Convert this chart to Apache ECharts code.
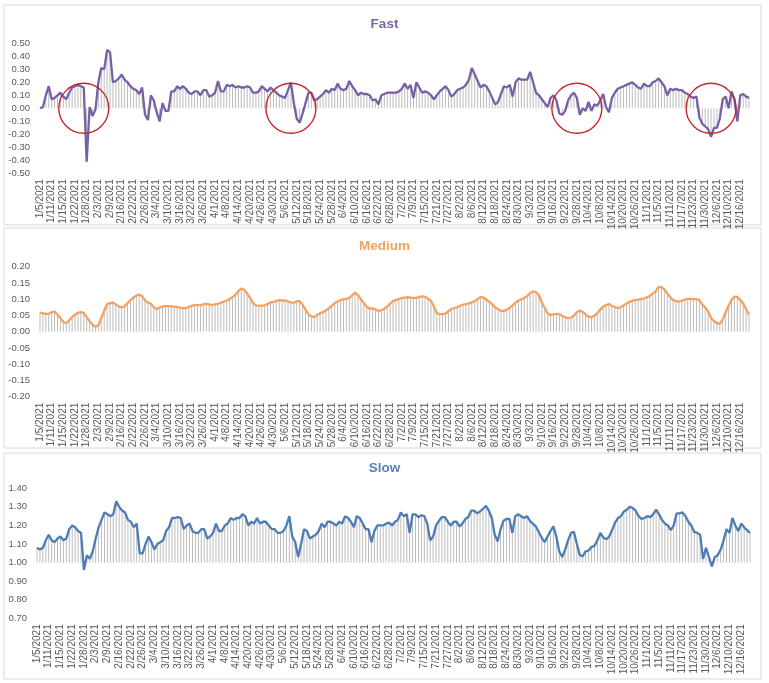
<!DOCTYPE html>
<html>
<head>
<meta charset="utf-8">
<script src="https://cdn.jsdelivr.net/npm/echarts@6/dist/echarts.min.js"></script>
<style>
html,body{margin:0;padding:0;background:#fff;}
#c{width:769px;height:683px;}
</style>
</head>
<body>
<div id="c"></div>
<script>
// Trading days of 2021 shown on the category axis (month -> days)
const monthDays = [
  [5,6,7,8,11,12,13,14,15,19,20,21,22,25,26,27,28,29],
  [1,2,3,4,5,8,9,10,11,12,16,17,18,19,22,23,24,25,26],
  [1,2,3,4,5,8,9,10,11,12,15,16,17,18,19,22,23,24,25,26,29,30,31],
  [1,5,6,7,8,9,12,13,14,15,16,19,20,21,22,23,26,27,28,29,30],
  [3,4,5,6,7,10,11,12,13,14,17,18,19,20,21,24,25,26,27,28],
  [1,2,3,4,7,8,9,10,11,14,15,16,17,18,21,22,23,24,25,28,29,30],
  [1,2,6,7,8,9,12,13,14,15,16,19,20,21,22,23,26,27,28,29,30],
  [2,3,4,5,6,9,10,11,12,13,16,17,18,19,20,23,24,25,26,27,30,31],
  [1,2,3,7,8,9,10,13,14,15,16,17,20,21,22,23,24,27,28,29,30],
  [1,4,5,6,7,8,11,12,13,14,15,18,19,20,21,22,25,26,27,28,29],
  [1,2,3,4,5,8,9,10,11,12,15,16,17,18,19,22,23,24,26,29,30],
  [1,2,3,6,7,8,9,10,13,14,15,16,17,20,21]
];
const categories = monthDays.flatMap((days, m) => days.map(d => (m + 1) + '/' + d + '/2021'));

const fastValues = [
  0.00,0.01,0.10,0.17,0.07,0.08,0.10,0.12,0.09,0.07,
  0.12,0.16,0.17,0.18,0.17,0.16,-0.41,0.01,-0.06,-0.01,
  0.20,0.31,0.30,0.45,0.43,0.20,0.21,0.23,0.26,0.22,
  0.20,0.17,0.15,0.14,0.11,0.16,-0.05,-0.09,0.10,0.06,
  -0.03,-0.10,0.04,-0.02,-0.02,0.13,0.13,0.17,0.15,0.17,
  0.15,0.12,0.11,0.13,0.13,0.10,0.14,0.14,0.09,0.10,
  0.12,0.21,0.13,0.13,0.18,0.17,0.18,0.16,0.17,0.16,
  0.16,0.17,0.16,0.12,0.12,0.13,0.17,0.15,0.13,0.16,
  0.14,0.12,0.10,0.09,0.08,0.14,0.20,0.04,-0.08,-0.11,
  -0.04,0.04,0.12,0.12,0.06,0.07,0.09,0.11,0.14,0.12,
  0.15,0.14,0.19,0.15,0.14,0.15,0.21,0.17,0.14,0.10,
  0.12,0.11,0.11,0.10,0.06,0.07,0.03,0.10,0.11,0.12,
  0.12,0.12,0.12,0.13,0.15,0.19,0.15,0.18,0.08,0.20,
  0.16,0.12,0.13,0.12,0.10,0.07,0.10,0.13,0.15,0.17,
  0.14,0.09,0.11,0.14,0.15,0.16,0.18,0.22,0.31,0.26,
  0.21,0.16,0.18,0.17,0.13,0.08,0.03,0.05,0.11,0.17,
  0.16,0.18,0.09,0.20,0.23,0.22,0.22,0.22,0.28,0.20,
  0.12,0.10,0.07,0.04,0.01,0.08,0.10,0.06,-0.04,-0.05,
  -0.02,0.06,0.10,0.12,0.08,-0.05,0.00,-0.02,0.05,-0.02,
  0.03,0.02,0.06,0.11,0.01,-0.03,0.08,0.12,0.15,0.16,
  0.17,0.18,0.19,0.20,0.18,0.16,0.15,0.19,0.17,0.17,
  0.20,0.21,0.23,0.20,0.17,0.10,0.15,0.14,0.15,0.14,
  0.14,0.12,0.11,0.09,0.08,0.09,-0.07,-0.12,-0.14,-0.16,
  -0.22,-0.15,-0.15,-0.08,0.07,0.09,0.00,0.13,0.07,-0.10,
  0.10,0.11,0.09,0.08
];

const mediumValues = [
  0.060,0.056,0.055,0.055,0.060,0.062,0.052,0.042,0.030,0.026,
  0.035,0.045,0.053,0.058,0.060,0.058,0.045,0.032,0.022,0.015,
  0.020,0.042,0.065,0.085,0.088,0.090,0.084,0.078,0.075,0.078,
  0.088,0.097,0.105,0.111,0.114,0.110,0.096,0.090,0.086,0.075,
  0.070,0.074,0.078,0.079,0.079,0.078,0.077,0.076,0.074,0.072,
  0.073,0.076,0.080,0.082,0.082,0.082,0.084,0.086,0.084,0.082,
  0.084,0.086,0.089,0.093,0.096,0.101,0.106,0.114,0.125,0.133,
  0.128,0.118,0.104,0.088,0.081,0.080,0.080,0.081,0.085,0.090,
  0.092,0.095,0.097,0.096,0.096,0.093,0.090,0.089,0.094,0.094,
  0.083,0.068,0.054,0.047,0.045,0.052,0.057,0.060,0.066,0.072,
  0.080,0.088,0.093,0.097,0.100,0.101,0.104,0.112,0.120,0.112,
  0.100,0.088,0.076,0.071,0.072,0.068,0.064,0.066,0.070,0.078,
  0.086,0.094,0.098,0.100,0.104,0.105,0.106,0.105,0.104,0.104,
  0.107,0.109,0.107,0.102,0.095,0.078,0.057,0.054,0.054,0.056,
  0.063,0.070,0.073,0.076,0.080,0.083,0.085,0.087,0.090,0.094,
  0.100,0.107,0.105,0.099,0.092,0.084,0.075,0.069,0.064,0.064,
  0.068,0.074,0.081,0.090,0.096,0.100,0.104,0.110,0.119,0.124,
  0.122,0.112,0.090,0.072,0.056,0.051,0.053,0.055,0.054,0.049,
  0.044,0.042,0.043,0.050,0.060,0.065,0.061,0.053,0.046,0.045,
  0.049,0.057,0.068,0.077,0.082,0.085,0.080,0.076,0.073,0.075,
  0.081,0.087,0.092,0.095,0.098,0.099,0.101,0.102,0.106,0.110,
  0.117,0.124,0.138,0.137,0.130,0.118,0.106,0.097,0.094,0.093,
  0.095,0.099,0.101,0.101,0.100,0.100,0.097,0.083,0.075,0.062,
  0.042,0.033,0.027,0.024,0.038,0.060,0.080,0.098,0.108,0.107,
  0.098,0.087,0.070,0.052
];

const slowValues = [
  1.08,1.07,1.08,1.12,1.15,1.12,1.11,1.13,1.14,1.12,
  1.13,1.18,1.20,1.19,1.17,1.16,0.96,1.04,1.02,1.06,
  1.13,1.19,1.23,1.27,1.26,1.25,1.26,1.33,1.30,1.28,
  1.27,1.23,1.22,1.19,1.21,1.05,1.05,1.10,1.14,1.11,
  1.07,1.10,1.11,1.12,1.17,1.19,1.24,1.24,1.245,1.24,
  1.18,1.20,1.21,1.17,1.16,1.16,1.18,1.18,1.13,1.14,
  1.16,1.21,1.17,1.17,1.20,1.21,1.24,1.23,1.24,1.24,
  1.26,1.25,1.20,1.22,1.21,1.24,1.21,1.22,1.22,1.20,
  1.18,1.18,1.16,1.16,1.17,1.20,1.25,1.14,1.11,1.03,
  1.10,1.18,1.17,1.13,1.14,1.15,1.17,1.21,1.19,1.22,
  1.22,1.21,1.20,1.22,1.21,1.25,1.24,1.22,1.19,1.25,
  1.24,1.21,1.18,1.18,1.11,1.17,1.20,1.20,1.20,1.21,
  1.215,1.20,1.22,1.23,1.27,1.25,1.26,1.16,1.26,1.26,
  1.245,1.255,1.25,1.21,1.12,1.14,1.20,1.225,1.245,1.245,
  1.22,1.20,1.22,1.22,1.195,1.21,1.235,1.245,1.28,1.28,
  1.265,1.275,1.29,1.305,1.28,1.24,1.15,1.115,1.18,1.225,
  1.235,1.235,1.16,1.25,1.26,1.25,1.24,1.25,1.225,1.21,
  1.195,1.165,1.135,1.11,1.14,1.17,1.195,1.14,1.06,1.03,
  1.07,1.12,1.16,1.165,1.10,1.04,1.035,1.06,1.065,1.085,
  1.09,1.12,1.16,1.135,1.125,1.14,1.175,1.215,1.24,1.25,
  1.275,1.285,1.30,1.295,1.28,1.25,1.235,1.24,1.25,1.245,
  1.26,1.285,1.26,1.23,1.21,1.20,1.175,1.20,1.265,1.265,
  1.27,1.25,1.22,1.20,1.165,1.16,1.15,1.02,1.08,1.03,
  0.98,1.03,1.04,1.07,1.12,1.18,1.16,1.24,1.20,1.17,
  1.21,1.19,1.175,1.16
];

// Annotation circles (category index, value) on the Fast panel
const circleSpots = [[15, 0], [86, 0], [184, 0], [230, 0]];

const panelTitles = ['Fast', 'Medium', 'Slow'];
const yMin = [-0.5, -0.2, 0.7];
const yMax = [0.5, 0.2, 1.4];
const yStep = [0.1, 0.05, 0.1];
const dropBase = [0, 0, 1.0];

const colors = ['#7860A6', '#F4A262', '#4E7DB3'];
const titleColors = ['#7D65A8', '#F2A35E', '#5A82B6'];
const seriesData = [fastValues, mediumValues, slowValues];

const grids = [
  {left: 40, right: 20, top: 43.3, height: 130},
  {left: 40, right: 20, top: 266.7, height: 130},
  {left: 37, right: 19, top: 488.3, height: 130}
];

const chart = echarts.init(document.getElementById('c'), null, {renderer: 'canvas'});

function dropRender(base) {
  return function (params, api) {
    const i = api.value(0);
    const v = api.value(1);
    const a = api.coord([i, base]);
    const b = api.coord([i, v]);
    return {
      type: 'line',
      shape: {x1: a[0], y1: a[1], x2: b[0], y2: b[1]},
      style: {stroke: '#ABABAB', lineWidth: 0.8}
    };
  };
}

const font = '"Liberation Sans", Arial, sans-serif';

const option = {
  animation: false,
  backgroundColor: '#ffffff',
  graphic: [
    {type: 'rect', shape: {x: 4, y: 5, width: 757, height: 220}, style: {fill: 'none', stroke: '#D9D9D9', lineWidth: 1}},
    {type: 'rect', shape: {x: 4, y: 228, width: 757, height: 220}, style: {fill: 'none', stroke: '#D9D9D9', lineWidth: 1}},
    {type: 'rect', shape: {x: 4, y: 453, width: 757, height: 226}, style: {fill: 'none', stroke: '#D9D9D9', lineWidth: 1}}
  ],
  title: [
    {text: panelTitles[0], left: 'center', top: 12, textStyle: {color: titleColors[0], fontSize: 13.5, fontWeight: 'bold', fontFamily: font}},
    {text: panelTitles[1], left: 'center', top: 234, textStyle: {color: titleColors[1], fontSize: 13.5, fontWeight: 'bold', fontFamily: font}},
    {text: panelTitles[2], left: 'center', top: 456, textStyle: {color: titleColors[2], fontSize: 13.5, fontWeight: 'bold', fontFamily: font}}
  ],
  grid: grids,
  xAxis: [0, 1, 2].map(k => ({
    type: 'category',
    gridIndex: k,
    data: categories,
    boundaryGap: false,
    axisLine: {show: false},
    axisTick: {show: false},
    splitLine: {show: false},
    axisLabel: {
      interval: 3,
      rotate: 90,
      margin: 6,
      color: '#595959',
      fontSize: 10,
      fontFamily: font
    }
  })),
  yAxis: [0, 1, 2].map(k => ({
    type: 'value',
    gridIndex: k,
    min: yMin[k],
    max: yMax[k],
    interval: yStep[k],
    axisLine: {show: false},
    axisTick: {show: false},
    splitLine: {show: false},
    axisLabel: {
      margin: 10,
      color: '#595959',
      fontSize: 9.5,
      fontFamily: font,
      formatter: v => v.toFixed(2)
    }
  })),
  series: []
};

[0, 1, 2].forEach(k => {
  option.series.push({
    type: 'custom',
    xAxisIndex: k,
    yAxisIndex: k,
    renderItem: dropRender(dropBase[k]),
    data: seriesData[k].map((v, i) => [i, v]),
    encode: {x: 0, y: 1},
    silent: true,
    z: 1
  });
  const line = {
    type: 'line',
    name: panelTitles[k],
    xAxisIndex: k,
    yAxisIndex: k,
    data: seriesData[k],
    symbol: 'none',
    lineStyle: {color: colors[k], width: 2.3},
    itemStyle: {color: colors[k]},
    z: 3
  };
  if (k === 0) {
    line.markPoint = {
      symbol: 'circle',
      symbolSize: 50,
      silent: true,
      label: {show: false},
      itemStyle: {color: 'rgba(0,0,0,0)', borderColor: '#C3262B', borderWidth: 1.4},
      data: circleSpots.map(c => ({coord: c}))
    };
  }
  option.series.push(line);
});

chart.setOption(option);
</script>
</body>
</html>
